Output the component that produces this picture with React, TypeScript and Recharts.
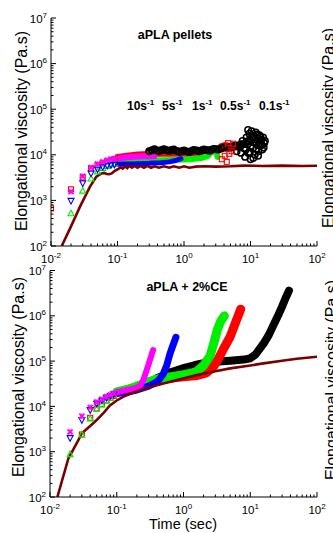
import React from 'react';
import { ComposedChart, Line, Scatter, XAxis, YAxis } from 'recharts';

type Pt = [number, number];

const FONT = '"Liberation Sans", Arial, Helvetica, sans-serif';

// axis decades
const timeDecades = [0.01, 0.1, 1, 10, 100];
const etaDecades = [1e2, 1e3, 1e4, 1e5, 1e6, 1e7];

// strain-rate annotations (top panel)
const rateLabels = ['10', '5', '1', '0.5', '0.1'];
const rateLabelX = [127, 162, 192, 220, 259];

// ---------- aPLA pellets ----------
const pelLve: Pt[] = [
  [0.0145, 100], [0.02, 270], [0.0273, 730], [0.0386, 2000], [0.048, 3300], [0.0578, 3900],
  [0.063, 4000], [0.0688, 3800], [0.075, 3750], [0.0818, 3900], [0.09, 4400], [0.103, 4900],
  [0.112, 5300], [0.12, 5000], [0.13, 5600], [0.14, 5100], [0.15, 5700], [0.165, 5200],
  [0.18, 5700], [0.2, 5200], [0.22, 5700], [0.25, 5200], [0.28, 5700], [0.32, 5200],
  [0.36, 5600], [0.42, 5200], [0.5, 5600], [0.6, 5200], [0.7, 5600], [0.85, 5200],
  [1, 5600], [1.2, 5200], [1.5, 5500], [2, 5600], [3, 5500], [5, 5600], [8, 5800],
  [15, 5700], [30, 5800], [60, 5700], [100, 5750],
];
const pelRedSq: Pt[] = [
  [0.01, 670], [0.02, 1750], [0.03, 3200], [0.04, 5000], [0.05, 5900], [0.06, 6600],
  [0.07, 7200], [0.08, 7700], [0.09, 8100],
];
const pelMagX: Pt[] = [
  [0.02, 1550], [0.03, 3400], [0.04, 5300], [0.05, 6300], [0.06, 7000], [0.07, 7600],
  [0.08, 8000], [0.09, 8200],
];
const pelBlueDn: Pt[] = [
  [0.02, 980], [0.03, 2370], [0.04, 3900], [0.05, 4800], [0.06, 5400], [0.07, 5800],
  [0.08, 6000], [0.09, 6100],
];
const pelGreenUp: Pt[] = [
  [0.02, 520], [0.03, 1630], [0.04, 3000], [0.05, 4300], [0.06, 5100], [0.07, 5700],
  [0.08, 6100], [0.09, 6400],
];
const pelMag: Pt[] = [
  [0.1, 8300], [0.13, 8700], [0.16, 9000], [0.2, 9200], [0.25, 9300], [0.3, 9300], [0.36, 9400],
];
const pelBlue: Pt[] = [
  [0.1, 6200], [0.14, 6300], [0.2, 6400], [0.3, 6500], [0.45, 6700], [0.6, 7000],
  [0.75, 7500], [0.9, 8200],
];
const pelGreen: Pt[] = [
  [0.1, 6800], [0.15, 7100], [0.2, 7300], [0.3, 7400], [0.5, 7600], [0.8, 7800], [1.2, 8000],
  [1.8, 8500], [2.3, 9500], [2.6, 11500], [2.85, 13500], [3.05, 12000], [3.2, 9000],
];
const pelRed: Pt[] = [
  [0.1, 9000], [0.15, 9700], [0.2, 10100], [0.3, 10400], [0.5, 10600], [0.8, 10500],
  [1.2, 10600], [1.8, 10800], [2.5, 11500], [3.2, 12500], [3.6, 15500], [4.2, 16500],
  [5, 15500], [5.6, 14000],
];
const pelRedEnd: Pt[] = [
  [3.7, 8000], [4.1, 9500], [4.4, 7000], [4.8, 10500], [5.2, 12000], [5.5, 17500], [4.6, 18000],
];
const pelBlack: Pt[] = [
  [0.3, 12000], [0.33, 12600], [0.36, 13200], [0.39, 12400], [0.42, 12000], [0.46, 12800],
  [0.5, 13300], [0.55, 12600], [0.6, 12100], [0.65, 12700], [0.7, 13100], [0.77, 12200],
  [0.85, 11700], [0.92, 12000], [1, 12400], [1.1, 11900], [1.2, 11500], [1.3, 12100],
  [1.4, 12800], [1.55, 12400], [1.7, 12000], [1.85, 12600], [2, 13100], [2.2, 12700],
  [2.4, 12300], [2.6, 12900], [2.8, 13500], [3.05, 13200], [3.3, 13000], [3.6, 13800],
  [4, 14500], [4.5, 14200], [5, 15000], [5.5, 15500], [6, 16000], [6.6, 15000], [7.2, 17000],
];
const pelBlackCloud: Pt[] = [
  [6.2, 12000], [6.8, 16000], [7.2, 11000], [7.6, 20000], [8, 14000], [8.3, 9000],
  [8.7, 24000], [9, 17000], [9.3, 11000], [9.6, 29000], [10, 21000], [10, 8000],
  [10.4, 33000], [10.8, 14000], [11.2, 26000], [11.6, 10000], [12, 31000], [12.4, 18000],
  [12.8, 23000], [13.2, 12000], [13.6, 27000], [14, 16000], [14.5, 21000], [15, 13000],
  [15.5, 24000], [16, 18000], [16.5, 20000], [9.2, 35000], [11, 8500], [13, 9500],
  [8.5, 13000], [9.4, 20000], [10.2, 15500], [10.6, 25000], [11.4, 18500], [11.8, 22000],
  [12.2, 13500], [12.6, 28000], [13.4, 17000], [14.2, 24500], [14.8, 16500], [15.8, 14500],
  [9.8, 11500], [8.9, 19500], [7.9, 17000],
];

// ---------- aPLA + 2%CE ----------
const ceLve: Pt[] = [
  [0.0129, 100], [0.0188, 700], [0.0266, 1800], [0.0299, 2550], [0.04, 3700], [0.05, 5000],
  [0.065, 7500], [0.079, 10500], [0.1, 13500], [0.126, 16400], [0.16, 19000], [0.224, 23000],
  [0.3, 26000], [0.5, 32000], [0.8, 38000], [1.58, 49000], [3, 60000], [5, 69000],
  [10, 80000], [15.8, 89000], [30, 102000], [50, 113000], [100, 125000],
];
const ceMagX: Pt[] = [
  [0.02, 2750], [0.03, 6100], [0.04, 9500], [0.05, 12500], [0.06, 14500], [0.07, 16500],
  [0.08, 18000], [0.09, 19500],
];
const ceBlueDn: Pt[] = [
  [0.02, 2000], [0.03, 5000], [0.04, 8300], [0.05, 11500], [0.06, 13500], [0.07, 15500],
  [0.08, 17000], [0.09, 18500],
];
const ceRedSq: Pt[] = [
  [0.03, 2400], [0.04, 5600], [0.05, 9000], [0.06, 11200], [0.07, 13500], [0.08, 15500],
  [0.09, 17000],
];
const ceGreenUp: Pt[] = [
  [0.02, 880], [0.03, 2400], [0.04, 5400], [0.05, 8800], [0.06, 11000], [0.07, 13500],
  [0.08, 15500], [0.09, 17500],
];
const ceMag: Pt[] = [
  [0.1, 20500], [0.13, 22500], [0.16, 24000], [0.2, 26000], [0.225, 29000], [0.25, 38000],
  [0.27, 53000], [0.3, 85000], [0.32, 115000], [0.35, 175000],
];
const ceBlue: Pt[] = [
  [0.1, 19500], [0.15, 21000], [0.2, 23000], [0.3, 28000], [0.4, 35000], [0.45, 42000],
  [0.5, 53000], [0.56, 80000], [0.63, 148000], [0.7, 230000], [0.77, 335000],
];
const ceGreen: Pt[] = [
  [0.1, 21000], [0.15, 24000], [0.2, 28000], [0.3, 35000], [0.4, 40000], [0.5, 43000],
  [0.7, 46000], [1, 50000], [1.3, 54000], [1.6, 60000], [2, 80000], [2.5, 130000],
  [2.8, 230000], [3.2, 480000], [3.6, 750000], [4.1, 1000000],
];
const ceRed: Pt[] = [
  [0.1, 20000], [0.2, 27000], [0.3, 34000], [0.4, 38000], [0.6, 42000], [1, 45000],
  [1.6, 48000], [2.2, 55000], [2.8, 75000], [3.3, 110000], [4, 190000], [5, 345000],
  [6, 700000], [7.2, 1400000],
];
const ceBlack: Pt[] = [
  [0.4, 42000], [0.5, 48000], [0.6, 55000], [0.8, 63000], [1, 70000], [1.5, 82000],
  [2, 90000], [3, 97000], [5, 102000], [8, 108000], [10, 115000], [12, 140000],
  [14, 190000], [16, 250000], [19, 380000], [22, 600000], [26, 1000000], [30, 1600000],
  [34, 2500000], [38, 3600000],
];

const RED = '#ff0000';
const GREEN = '#00ee00';
const BLUE = '#0000ff';
const MAGENTA = '#ff00ff';
const BLACK = '#000000';
const BROWN = '#7a0000';

const toPts = (d: Pt[]) => d.map(([t, v]) => ({ t, v }));

const withMinors = (decades: number[]) => {
  const out: number[] = [];
  decades.forEach((d, i) => {
    out.push(d);
    if (i < decades.length - 1) for (let k = 2; k < 10; k++) out.push(d * k);
  });
  return out;
};
const xTicks = withMinors(timeDecades);
const yTicks = withMinors(etaDecades);

type Side = 'bottom' | 'top' | 'left' | 'right';

const makeTick = (side: Side, labels: boolean) => (p: any) => {
  const v = Number(p.payload.value);
  const lg = Math.log10(v);
  const e = Math.round(lg);
  const major = Math.abs(lg - e) < 1e-6;
  const len = major ? 5 : 2.5;
  const { x, y } = p;
  let ln: React.ReactNode = null;
  let lab: React.ReactNode = null;
  if (side === 'bottom') {
    ln = <line x1={x} x2={x} y1={y} y2={y - len} stroke="#000" />;
    if (labels && major)
      lab = (
        <text x={x} y={y + 16.5} textAnchor="middle" fontSize={11.5} fontFamily={FONT} fill="#000">
          10<tspan dy={-5} fontSize={8}>{e}</tspan>
        </text>
      );
  } else if (side === 'top') {
    ln = <line x1={x} x2={x} y1={y} y2={y + len} stroke="#000" />;
  } else if (side === 'left') {
    ln = <line x1={x} x2={x + len} y1={y} y2={y} stroke="#000" />;
    if (labels && major)
      lab = (
        <text x={x - 4} y={y + 4.5} textAnchor="end" fontSize={11.5} fontFamily={FONT} fill="#000">
          10<tspan dy={-5} fontSize={8}>{e}</tspan>
        </text>
      );
  } else {
    ln = <line x1={x} x2={x - len} y1={y} y2={y} stroke="#000" />;
  }
  return (
    <g>
      {ln}
      {lab}
    </g>
  );
};

const shapeSquare = (c: string) => (p: any) =>
  <rect x={p.cx - 2.5} y={p.cy - 2.5} width={5} height={5} fill="none" stroke={c} strokeWidth={1.1} />;
const shapeUp = (c: string) => (p: any) =>
  <polygon points={`${p.cx},${p.cy - 3.2} ${p.cx - 3},${p.cy + 2.4} ${p.cx + 3},${p.cy + 2.4}`} fill="none" stroke={c} strokeWidth={1.1} />;
const shapeDown = (c: string) => (p: any) =>
  <polygon points={`${p.cx},${p.cy + 3.2} ${p.cx - 3},${p.cy - 2.4} ${p.cx + 3},${p.cy - 2.4}`} fill="none" stroke={c} strokeWidth={1.1} />;
const shapeX = (c: string) => (p: any) => (
  <g stroke={c} strokeWidth={1.8}>
    <line x1={p.cx - 2.5} y1={p.cy - 2.5} x2={p.cx + 2.5} y2={p.cy + 2.5} />
    <line x1={p.cx - 2.5} y1={p.cy + 2.5} x2={p.cx + 2.5} y2={p.cy - 2.5} />
    <line x1={p.cx} y1={p.cy - 2.5} x2={p.cx} y2={p.cy + 2.5} strokeWidth={1} />
  </g>
);
const shapeCircle = (c: string) => (p: any) =>
  <circle cx={p.cx} cy={p.cy} r={3.2} fill="none" stroke={c} strokeWidth={1.5} />;

interface Band { data: Pt[]; color: string; width: number; }
interface Marks { data: Pt[]; shape: (p: any) => React.ReactElement; }

interface PanelProps {
  height: number;
  top: number;
  yAxisWidth: number;
  xAxisHeight: number;
  bands: Band[];
  marks: Marks[];
  lve: Pt[];
}

function Panel({ height, top, yAxisWidth, xAxisHeight, bands, marks, lve }: PanelProps) {
  return (
    <ComposedChart width={333} height={height} margin={{ top, right: 16, bottom: 0, left: 0 }}>
      <XAxis
        xAxisId={0}
        dataKey="t"
        type="number"
        scale="log"
        domain={[0.01, 100]}
        allowDataOverflow
        ticks={xTicks}
        interval={0}
        tickSize={0}
        tickMargin={0}
        height={xAxisHeight}
        axisLine={{ stroke: '#000' }}
        tick={makeTick('bottom', true)}
      />
      <XAxis
        xAxisId="top"
        orientation="top"
        dataKey="t"
        type="number"
        scale="log"
        domain={[0.01, 100]}
        allowDataOverflow
        ticks={xTicks}
        interval={0}
        tickSize={0}
        tickMargin={0}
        height={0}
        axisLine={{ stroke: '#000' }}
        tick={makeTick('top', false)}
      />
      <YAxis
        yAxisId={0}
        dataKey="v"
        type="number"
        scale="log"
        domain={[100, 1e7]}
        allowDataOverflow
        ticks={yTicks}
        interval={0}
        tickSize={0}
        tickMargin={0}
        width={yAxisWidth}
        axisLine={{ stroke: '#000' }}
        tick={makeTick('left', true)}
      />
      <YAxis
        yAxisId="right"
        orientation="right"
        dataKey="v"
        type="number"
        scale="log"
        domain={[100, 1e7]}
        allowDataOverflow
        ticks={yTicks}
        interval={0}
        tickSize={0}
        tickMargin={0}
        width={0}
        axisLine={{ stroke: '#000' }}
        tick={makeTick('right', false)}
      />
      {bands.map((b, i) => (
        <Line
          key={'b' + i}
          data={toPts(b.data)}
          dataKey="v"
          type="linear"
          stroke={b.color}
          strokeWidth={b.width}
          strokeLinecap="round"
          strokeLinejoin="round"
          dot={false}
          isAnimationActive={false}
        />
      ))}
      {marks.map((m, i) => (
        <Scatter key={'m' + i} data={toPts(m.data)} dataKey="v" shape={m.shape} isAnimationActive={false} />
      ))}
      <Line
        data={toPts(lve)}
        dataKey="v"
        type="linear"
        stroke={BROWN}
        strokeWidth={2.6}
        dot={false}
        isAnimationActive={false}
      />
    </ComposedChart>
  );
}

const yTitle = 'Elongational viscosity (Pa.s)';

export default function App() {
  return (
    <div style={{ position: 'absolute', left: 0, top: 0, width: 333, height: 533, background: '#fff', overflow: 'hidden' }}>
      <div style={{ position: 'absolute', left: 0, top: 0 }}>
        <Panel
          height={270}
          top={18}
          yAxisWidth={51}
          xAxisHeight={24}
          lve={pelLve}
          bands={[
            { data: pelBlack, color: BLACK, width: 7 },
            { data: pelRed, color: RED, width: 6 },
            { data: pelGreen, color: GREEN, width: 6 },
            { data: pelBlue, color: BLUE, width: 5 },
            { data: pelMag, color: MAGENTA, width: 6 },
          ]}
          marks={[
            { data: pelBlack, shape: shapeCircle(BLACK) },
            { data: pelBlackCloud, shape: shapeCircle(BLACK) },
            { data: pelRedEnd, shape: shapeSquare(RED) },
            { data: pelRedSq, shape: shapeSquare(RED) },
            { data: pelGreenUp, shape: shapeUp(GREEN) },
            { data: pelBlueDn, shape: shapeDown(BLUE) },
            { data: pelMagX, shape: shapeX(MAGENTA) },
          ]}
        />
      </div>
      <div style={{ position: 'absolute', left: 0, top: 250 }}>
        <Panel
          height={283}
          top={20.5}
          yAxisWidth={50}
          xAxisHeight={36}
          lve={ceLve}
          bands={[
            { data: ceBlack, color: BLACK, width: 8 },
            { data: ceRed, color: RED, width: 9 },
            { data: ceGreen, color: GREEN, width: 9 },
            { data: ceBlue, color: BLUE, width: 7 },
            { data: ceMag, color: MAGENTA, width: 6 },
          ]}
          marks={[
            { data: ceRedSq, shape: shapeSquare(RED) },
            { data: ceGreenUp, shape: shapeUp(GREEN) },
            { data: ceBlueDn, shape: shapeDown(BLUE) },
            { data: ceMagX, shape: shapeX(MAGENTA) },
          ]}
        />
      </div>
      <svg
        width={333}
        height={533}
        style={{ position: 'absolute', left: 0, top: 0, pointerEvents: 'none' }}
        fontFamily={FONT}
      >
        <text x={21} y={131} transform="rotate(-90 21 131)" textAnchor="middle" dominantBaseline="central" fontSize={16} fill="#000">
          {yTitle}
        </text>
        <text x={18} y={377} transform="rotate(-90 18 377)" textAnchor="middle" dominantBaseline="central" fontSize={16} fill="#000">
          {yTitle}
        </text>
        <text x={334} y={128} transform="rotate(-90 334 128)" textAnchor="middle" fontSize={16} fill="#000">
          {yTitle}
        </text>
        <text x={337} y={380} transform="rotate(-90 337 380)" textAnchor="middle" fontSize={16} fill="#000">
          {yTitle}
        </text>
        <text x={175} y={39} textAnchor="middle" fontSize={12.5} fontWeight="bold" fill="#000">aPLA pellets</text>
        <text x={187} y={291} textAnchor="middle" fontSize={12.5} fontWeight="bold" fill="#000">aPLA + 2%CE</text>
        {rateLabels.map((r, i) => (
          <text key={r} x={rateLabelX[i]} y={110} fontSize={12} fontWeight="bold" fill="#000">
            {r}s<tspan dy={-5} fontSize={8}>-1</tspan>
          </text>
        ))}
        <text x={183} y={529} textAnchor="middle" fontSize={14.5} fill="#000">Time (sec)</text>
      </svg>
    </div>
  );
}
